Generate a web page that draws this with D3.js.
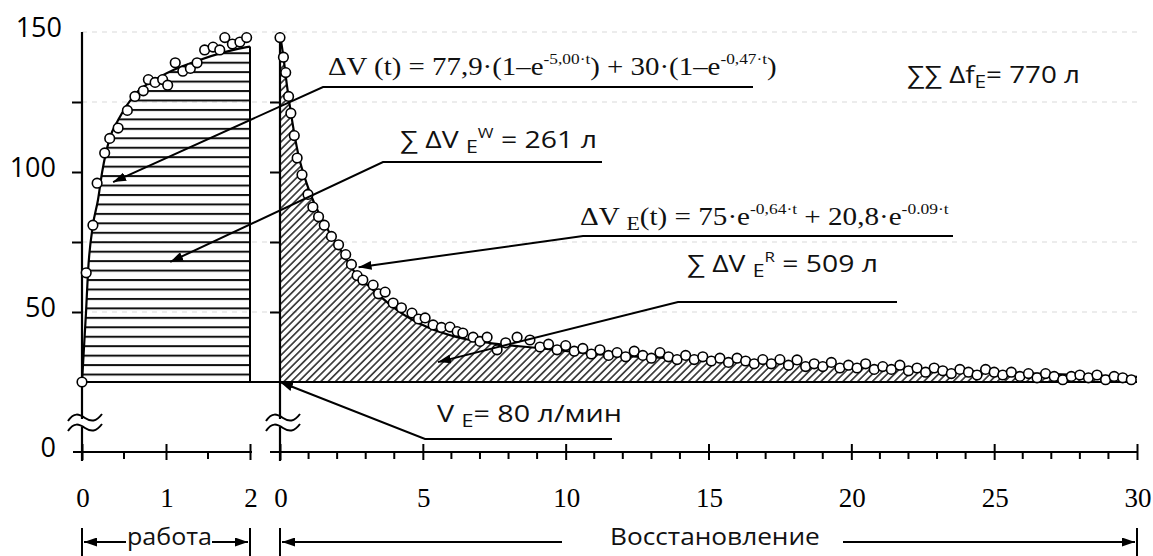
<!DOCTYPE html>
<html>
<head>
<meta charset="utf-8">
<script src="https://cdn.jsdelivr.net/npm/d3@7"></script>
<style>
  body { margin: 0; background: #fff; }
  svg { display: block; }
</style>
</head>
<body>
<script>
// work phase (0..2 min): fitted curve and measured points
const workCurveT = [0, 0.048, 0.071, 0.13, 0.19, 0.24, 0.33, 0.43, 0.61, 0.93, 1.4, 1.96, 2];
const workCurveV = [25, 50, 64, 81, 90, 100, 112, 118.6, 127, 134, 140, 144.6, 144.8];
const workT = [0, 0.05, 0.13, 0.18, 0.27, 0.33, 0.43, 0.54, 0.63, 0.73, 0.79, 0.87, 0.96, 1.02, 1.11, 1.2, 1.29, 1.37, 1.46, 1.56, 1.64, 1.70, 1.79, 1.88, 1.96];
const workV = [25, 64, 81, 96, 106.8, 112, 115.7, 122, 127, 129, 133, 132, 133, 131, 139, 136, 137, 139, 143.6, 144.6, 143.6, 148, 145.7, 146.4, 148];

// recovery phase (0..30 min)
const recCurveT = [0, 0.1, 0.25, 0.42, 0.63, 0.98, 1.26, 1.68, 2.17, 2.56, 3.26, 4.1, 5.15, 6.2, 7.35, 9.1, 11, 15, 20, 25, 30];
const recCurveV = [149, 142.5, 130.4, 118.6, 106.8, 94.6, 87.5, 79.3, 71.4, 65, 57.9, 50.7, 44.6, 41, 38.9, 37.1, 35, 33, 30.7, 28.5, 26.8];
const recT = [0.0, 0.12, 0.2, 0.3, 0.38, 0.5, 0.6, 0.77, 0.98, 1.15, 1.35, 1.55, 1.8, 2.05, 2.3, 2.5, 2.7, 2.9, 3.26, 3.45, 3.68, 3.96, 4.25, 4.62, 4.85, 5.08, 5.36, 5.65, 5.95, 6.2, 6.4, 6.76, 7.0, 7.25, 7.6, 7.9, 8.3, 8.75, 9.1, 9.4, 9.7, 10.0, 10.3, 10.6, 10.9, 11.2, 11.5, 11.8, 12.1, 12.4, 12.7, 13.0, 13.3, 13.6, 13.9, 14.2, 14.5, 14.8, 15.1, 15.4, 15.7, 16.0, 16.3, 16.6, 16.9, 17.2, 17.5, 17.8, 18.1, 18.4, 18.7, 19.0, 19.3, 19.6, 19.9, 20.2, 20.5, 20.8, 21.1, 21.4, 21.7, 22.0, 22.3, 22.6, 22.9, 23.2, 23.5, 23.8, 24.1, 24.4, 24.7, 25.0, 25.3, 25.6, 25.9, 26.2, 26.5, 26.8, 27.1, 27.4, 27.7, 28.0, 28.3, 28.6, 28.9, 29.2, 29.5, 29.8];
const recV = [148, 141, 135.5, 127, 121, 113, 105, 99, 92, 87.5, 84, 81, 77, 74, 70.5, 67, 63, 61.4, 59.6, 56.5, 57.1, 53.2, 51.5, 49.6, 47.5, 47.9, 45.4, 44.5, 44.6, 43, 42.5, 41, 39.5, 41, 36.5, 39, 41, 40, 37.5, 38.5, 36.5, 38, 36, 37, 35, 36.5, 34.5, 35.5, 34, 36, 34.5, 33.5, 35.5, 34, 33, 34.5, 33, 34, 32.5, 33.5, 32, 33.5, 32.5, 31.5, 33, 31.5, 33, 31, 32.9, 30.5, 31.5, 30.5, 32, 30, 31, 30, 31.5, 29.5, 30.5, 29.5, 31, 29, 30, 28.5, 30, 29, 28, 29.5, 28.5, 27.5, 29.5, 28.5, 27.5, 28.5, 27, 28, 26.5, 28, 27, 25.8, 27, 27.5, 26.5, 27.5, 25.8, 27, 26.5, 25.8];

const baseV = 25;                         // V_E baseline level
const yLabels = [150, 100, 50, 0];
const yTicks = [50, 75, 100, 125];
const gridV = [150, 125, 75, 50];
const workTicks = [0, 1, 2];
const workMinor = [0.5, 1.5];
const recTicks = [0, 5, 10, 15, 20, 25, 30];
const recMinor = d3.range(1, 30).filter(d => d % 5 !== 0);

const W = 1153, H = 556;
const SERIF = "'Liberation Serif', 'Times New Roman', serif";
const SANS = "'Open Sans', 'Noto Sans', sans-serif";

const y = d3.scaleLinear().domain([0, 150]).range([452, 32]);
const xw = d3.scaleLinear().domain([0, 2]).range([82, 250]);
const xr = d3.scaleLinear().domain([0, 30]).range([280, 1137]);

const svg = d3.select("body").append("svg").attr("width", W).attr("height", H);
const defs = svg.append("defs");

defs.append("pattern").attr("id", "hz")
  .attr("patternUnits", "userSpaceOnUse").attr("width", 10).attr("height", 9.45)
  .attr("y", y(baseV) - 9.45 + 1)
  .append("line").attr("x1", 0).attr("x2", 10).attr("y1", 1).attr("y2", 1)
  .attr("stroke", "#111").attr("stroke-width", 2);

defs.append("pattern").attr("id", "dg")
  .attr("patternUnits", "userSpaceOnUse").attr("width", 5.2).attr("height", 10)
  .attr("patternTransform", "rotate(45)")
  .append("line").attr("x1", 2.6).attr("x2", 2.6).attr("y1", 0).attr("y2", 10)
  .attr("stroke", "#111").attr("stroke-width", 1.4);

defs.append("marker").attr("id", "arr")
  .attr("markerUnits", "userSpaceOnUse").attr("markerWidth", 14).attr("markerHeight", 9)
  .attr("refX", 13).attr("refY", 4.5).attr("orient", "auto")
  .append("path").attr("d", "M0,0L13,4.5L0,9Z").attr("fill", "#000");

// faint background dashes (scan residue)
svg.append("g").selectAll("line").data(gridV).join("line")
  .attr("x1", xw(0)).attr("x2", xr(30))
  .attr("y1", d => y(d)).attr("y2", d => y(d))
  .attr("stroke", "#e6e6e6").attr("stroke-width", 1.5).attr("stroke-dasharray", "5,5");

// ---- areas
const workPts = workCurveT.map((t, i) => [t, workCurveV[i]]);
const recPts = recCurveT.map((t, i) => [t, recCurveV[i]]);

svg.append("path").datum(workPts)
  .attr("fill", "url(#hz)")
  .attr("d", d3.area().x(d => xw(d[0])).y0(y(baseV)).y1(d => y(d[1])).curve(d3.curveMonotoneX));
svg.append("path").datum(recPts)
  .attr("fill", "url(#dg)")
  .attr("d", d3.area().x(d => xr(d[0])).y0(y(baseV)).y1(d => y(d[1])).curve(d3.curveMonotoneX));

// right edge of work block
svg.append("line")
  .attr("x1", xw(2)).attr("x2", xw(2)).attr("y1", y(baseV)).attr("y2", y(workCurveV[workCurveV.length - 1]))
  .attr("stroke", "#000").attr("stroke-width", 2);

// baseline
svg.append("line")
  .attr("x1", xw(0)).attr("x2", xr(30)).attr("y1", y(baseV)).attr("y2", y(baseV))
  .attr("stroke", "#000").attr("stroke-width", 2.2);

// ---- fitted curves
svg.append("path").datum(workPts).attr("fill", "none").attr("stroke", "#000").attr("stroke-width", 2.2)
  .attr("d", d3.line().x(d => xw(d[0])).y(d => y(d[1])).curve(d3.curveMonotoneX));
svg.append("path").datum(recPts).attr("fill", "none").attr("stroke", "#000").attr("stroke-width", 2.2)
  .attr("d", d3.line().x(d => xr(d[0])).y(d => y(d[1])).curve(d3.curveMonotoneX));

// ---- axes
function yAxisAt(x) {
  const g = svg.append("g").attr("transform", `translate(${x},0)`);
  g.call(d3.axisLeft(y).tickValues(yTicks).tickSize(10).tickSizeOuter(0).tickFormat(""));
  g.select(".domain").remove();
  g.selectAll(".tick line").attr("stroke", "#000").attr("stroke-width", 2);
  g.append("line").attr("y1", y(150)).attr("y2", y(0) + 9).attr("stroke", "#000").attr("stroke-width", 2.2);
  // axis break
  const by = 423;
  g.append("rect").attr("x", -4).attr("y", by - 4).attr("width", 8).attr("height", 8).attr("fill", "#fff");
  [-5, 5].forEach(o => {
    g.append("path").attr("d", `M-14,${by + o + 3}C-8,${by + o - 6} -3,${by + o - 4} 3,${by + o}S14,${by + o + 4} 20,${by + o - 4}`)
      .attr("fill", "none").attr("stroke", "#000").attr("stroke-width", 2);
  });
}
yAxisAt(xw(0));
yAxisAt(xr(0));

function xAxis(scale, major, minor, x0, x1) {
  const g = svg.append("g").attr("transform", `translate(0,${y(0)})`);
  g.append("line").attr("x1", x0).attr("x2", x1).attr("stroke", "#000").attr("stroke-width", 2.2);
  g.call(d3.axisBottom(scale).tickValues(major).tickSize(8).tickSizeOuter(0).tickFormat(""));
  g.select(".domain").remove();
  g.selectAll(".tick line").attr("y1", -8).attr("y2", 8).attr("stroke", "#000").attr("stroke-width", 2);
  g.selectAll(".minor").data(minor).join("line").attr("class", "minor")
    .attr("x1", d => scale(d)).attr("x2", d => scale(d)).attr("y1", 0).attr("y2", 7)
    .attr("stroke", "#000").attr("stroke-width", 2);
  svg.append("g").selectAll("text").data(major).join("text")
    .attr("x", d => scale(d) + 1).attr("y", 507)
    .attr("text-anchor", "middle").attr("font-family", SERIF).attr("font-size", 27)
    .text(d => d);
}
xAxis(xw, workTicks, workMinor, 73, 252);
xAxis(xr, recTicks, recMinor, 270, xr(30));

svg.append("g").selectAll("text").data(yLabels).join("text")
  .attr("x", d => d === 150 ? 62 : 56).attr("y", d => y(d) + 5)
  .attr("text-anchor", "end").attr("font-family", SANS).attr("font-size", 27)
  .text(d => d);

// ---- data points
svg.append("g").selectAll("circle").data(workT).join("circle")
  .attr("cx", d => xw(d)).attr("cy", (d, i) => y(workV[i])).attr("r", 4.8)
  .attr("fill", "#fff").attr("stroke", "#000").attr("stroke-width", 1.6);
svg.append("g").selectAll("circle").data(recT).join("circle")
  .attr("cx", d => xr(d)).attr("cy", (d, i) => y(recV[i])).attr("r", 4.8)
  .attr("fill", "#fff").attr("stroke", "#000").attr("stroke-width", 1.6);

// ---- annotations
// text is stretched horizontally to the width it has in the scanned figure
function rich(x, yy, parts, font, size, width) {
  const t = svg.append("text").attr("x", x).attr("y", yy).attr("font-family", font).attr("font-size", size).attr("fill", "#111");
  let shift = 0;
  parts.forEach(p => {
    const target = p.sup ? -size * 0.42 : p.sub ? size * 0.2 : 0;
    t.append("tspan").attr("dy", target - shift)
      .attr("font-size", p.sup ? size * 0.6 : p.sub ? size * 0.75 : size).text(p.t);
    shift = target;
  });
  if (width) {
    const w = t.node().getBBox().width;
    t.attr("transform", `translate(${x},0) scale(${width / w},1) translate(${-x},0)`);
  }
  return t;
}
function leader(pts) {
  svg.append("path").attr("d", d3.line()(pts)).attr("fill", "none")
    .attr("stroke", "#000").attr("stroke-width", 2).attr("marker-end", "url(#arr)");
}

rich(328, 75, [{ t: "ΔV (t) = 77,9·(1–e" }, { t: "-5,00·t", sup: true }, { t: ") + 30·(1–e" }, { t: "-0,47·t", sup: true }, { t: ")" }], SERIF, 25, 449);
leader([[753, 87], [323, 87], [xw(0.37), y(96.4)]]);

rich(400, 148, [{ t: "∑ ΔV " }, { t: "E", sub: true }, { t: "W", sup: true }, { t: " = 261 л" }], SANS, 24, 197);
leader([[602, 162], [383, 162], [xw(1.05), y(67.9)]]);

rich(580, 225, [{ t: "ΔV " }, { t: "E", sub: true }, { t: "(t) = 75·e" }, { t: "-0,64·t", sup: true }, { t: " + 20,8·e" }, { t: "-0.09·t", sup: true }], SERIF, 25, 370);
leader([[953, 236], [583, 236], [xr(2.75), y(66)]]);

rich(687, 272, [{ t: "∑ ΔV " }, { t: "E", sub: true }, { t: "R", sup: true }, { t: " = 509 л" }], SANS, 24, 191);
leader([[897, 302], [678, 302], [xr(5.53), y(32.1)]]);

rich(907, 83, [{ t: "∑∑ Δf" }, { t: "E", sub: true }, { t: "= 770 л" }], SANS, 24, 173);

rich(437, 422, [{ t: "V " }, { t: "E", sub: true }, { t: "= 80 л/мин" }], SANS, 24, 185);
leader([[612, 439], [425, 439], [xr(0), y(baseV)]]);

// ---- phase brackets
function bracket(x0, x1, label, gapL, gapR, tx, width) {
  [x0, x1].forEach(x => svg.append("line").attr("x1", x).attr("x2", x).attr("y1", 528).attr("y2", 556)
    .attr("stroke", "#000").attr("stroke-width", 2));
  leader([[gapL, 542], [x0 + 2, 542]]);
  leader([[gapR, 542], [x1 - 2, 542]]);
  rich(tx, 545, [{ t: label }], SANS, 24, width);
}
bracket(xw(0), xw(2), "работа", 126, 212, 127, 85);
bracket(xr(0), xr(30), "Восстановление", 562, 843, 610, 210);
</script>
</body>
</html>
